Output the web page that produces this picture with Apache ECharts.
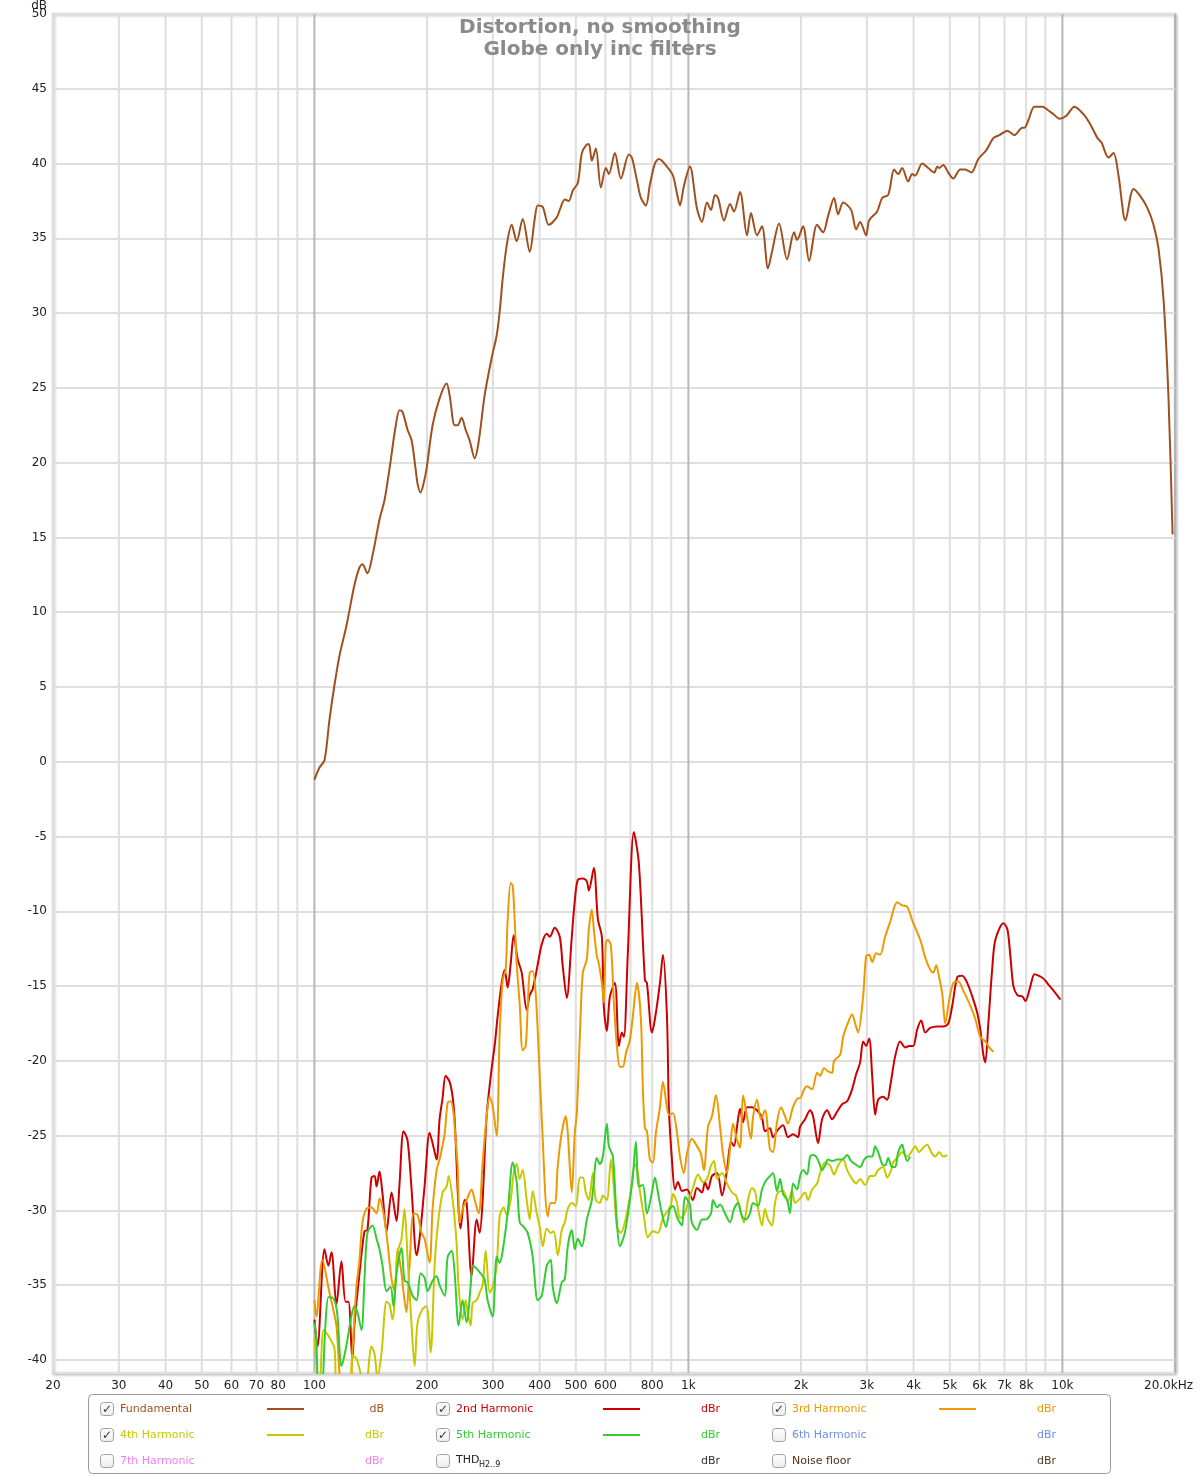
<!DOCTYPE html>
<html>
<head>
<meta charset="utf-8">
<script src="https://cdn.jsdelivr.net/npm/echarts@6/dist/echarts.min.js"></script>
<style>
html,body{margin:0;padding:0;background:#fff;}
#chart{width:1200px;height:1477px;}
</style>
</head>
<body>
<div id="chart"></div>
<script>
// ---------------- data ----------------
const titleLines = ['Distortion, no smoothing', 'Globe only inc filters'];

const fundFreq = [100,103.1,106.4,109.7,113.1,116.7,121.8,127.9,132.0,134.4,
138.6,143.0,149.3,154.0,158.8,164.8,168.9,172.0,177.4,181.9,
186.4,188.7,192.2,195.8,199.5,207.0,216.1,225.7,229.9,237.1,
241.5,247.5,253.7,260.0,268.2,274.9,285.2,297.8,307.1,312.9,
318.7,326.6,336.9,347.4,360.5,376.4,388.2,395.5,407.9,423.2,
444.6,452.9,467.1,478.7,490.7,506.1,518.8,531.7,541.7,551.8,
565.6,583.3,601.5,612.8,635.9,659.8,693.0,706.0,728.1,746.4,
769.8,789.0,813.7,834.0,876.2,909.2,931.9,949.3,972.7,1009,
1054,1087,1121,1149,1178,1200,1245,1292,1324,1374,
1434,1470,1525,1573,1632,1673,1747,1835,1916,1952,
2026,2102,2208,2291,2363,2452,2513,2592,2723,2808,
2878,2987,3043,3196,3296,3421,3549,3638,3729,3869,
3966,4040,4218,4377,4542,4627,4684,4801,4952,5107,
5332,5500,5707,5958,6260,6537,6783,7126,7441,7817,
7914,8111,8417,8843,9121,9464,9817,10250,10768,11384,
11887,12411,12721,13282,13698,14124,14747,15493,16175,16888,
17524,18073,18639,19224,19703];

const fundDb = [-1.2,-0.4,0.1,2.8,5.1,7.1,9.1,11.8,13.0,13.2,
12.6,13.8,16.2,17.5,19.6,22.4,23.5,23.4,22.2,21.5,
19.6,18.6,18.0,18.6,19.6,22.5,24.3,25.3,24.5,22.5,
22.5,23.0,22.2,21.5,20.3,21.4,24.5,27.0,28.5,30.1,
32.3,34.5,35.9,34.8,36.3,34.1,36.3,37.2,37.1,35.9,
36.4,36.9,37.6,37.5,38.2,38.7,40.7,41.2,41.3,40.2,
41.0,38.4,39.7,39.3,40.7,39.0,40.6,40.4,38.9,37.7,
37.2,38.6,40.0,40.3,39.8,39.2,38.0,37.2,38.5,39.8,
37.0,36.1,37.4,36.9,37.9,37.7,36.2,37.3,36.8,38.1,
35.2,36.7,35.2,35.8,33.0,34.1,36.0,33.6,35.4,34.9,
35.8,33.5,35.9,35.4,36.5,37.7,36.6,37.4,36.9,35.6,
36.1,35.2,36.2,36.8,37.7,37.9,39.6,39.3,39.7,38.8,
39.3,39.2,40.0,39.7,39.4,39.8,39.7,39.9,39.4,39.0,
39.6,39.6,39.4,40.3,40.9,41.7,41.9,42.2,41.9,42.4,
42.4,42.9,43.8,43.8,43.6,43.3,43.0,43.2,43.8,43.3,
42.6,41.7,41.4,40.4,40.7,39.2,36.2,38.3,37.8,37.0,
35.9,34.3,30.9,24.2,15.2];

// [frequency Hz, dBr]
const harmonic2 = [[100,-37.3],[101.9,-39.1],[106.4,-32.6],[109.0,-33.7],[111.1,-32.8],[114.5,-36.3],[118.1,-33.4],[121.1,-36.1],[123.3,-36.1],[126.3,-40.0],[127.9,-37.7],[132.0,-34.2],[136.1,-31.4],[138.6,-31.3],[142.1,-27.8],[144.8,-27.7],[146.6,-28.4],[149.3,-27.4],[152.1,-28.9],[155.9,-31.4],[160.8,-28.8],[165.8,-30.7],[168.9,-28.2],[173.1,-24.7],[177.4,-25.3],[181.9,-28.6],[187.6,-33.0],[191.0,-31.9],[197.0,-28.4],[203.2,-24.8],[207.0,-25.5],[212.2,-26.6],[216.1,-23.9],[220.1,-22.5],[224.3,-21.0],[229.9,-21.4],[234.2,-22.4],[237.1,-23.9],[246.0,-31.2],[252.1,-29.3],[255.3,-29.5],[263.2,-34.4],[271.5,-30.6],[276.6,-31.5],[281.7,-29.3],[288.7,-23.7],[297.8,-20.5],[303.3,-19.0],[309.0,-17.0],[316.7,-14.8],[322.7,-13.9],[328.6,-15.1],[334.8,-13.5],[341.1,-11.6],[349.5,-13.2],[358.3,-14.1],[369.5,-16.6],[376.4,-15.6],[383.4,-15.2],[393.1,-13.9],[405.4,-12.2],[418.0,-11.5],[425.8,-11.7],[439.1,-11.1],[452.9,-11.7],[461.4,-13.7],[472.9,-15.8],[487.7,-11.7],[496.8,-9.3],[506.1,-7.9],[522.0,-7.8],[535.0,-8.0],[541.7,-8.6],[558.6,-7.1],[572.6,-10.5],[586.9,-11.7],[594.1,-16.4],[605.2,-18.0],[616.6,-15.7],[635.9,-14.8],[651.7,-19.0],[663.9,-18.1],[672.1,-18.4],[688.7,-12.8],[714.8,-4.7],[737.1,-6.8],[765.1,-14.6],[774.6,-14.8],[798.8,-18.1],[813.7,-17.2],[839.2,-14.8],[854.8,-12.9],[876.2,-17.0],[887.1,-23.3],[903.6,-26.6],[920.5,-28.6],[937.7,-28.1],[961.1,-28.7],[990.8,-28.6],[1028,-29.3],[1054,-28.5],[1087,-28.8],[1107,-28.1],[1128,-28.6],[1156,-27.7],[1193,-27.5],[1230,-29.0],[1268,-27.3],[1300,-25.4],[1324,-25.7],[1349,-24.4],[1374,-23.2],[1400,-24.1],[1434,-23.1],[1479,-23.1],[1525,-23.3],[1573,-23.8],[1602,-24.7],[1652,-24.5],[1683,-25.1],[1736,-24.6],[1791,-24.3],[1846,-25.1],[1904,-24.9],[1964,-25.1],[1989,-24.4],[2051,-23.9],[2115,-23.3],[2154,-23.7],[2222,-25.5],[2277,-23.9],[2348,-23.3],[2422,-23.9],[2498,-23.4],[2576,-22.9],[2657,-22.7],[2740,-21.9],[2808,-20.9],[2878,-20.1],[2932,-18.7],[2987,-19.0],[3043,-18.5],[3100,-21.0],[3157,-23.6],[3216,-22.6],[3316,-22.4],[3400,-22.6],[3463,-21.7],[3571,-19.7],[3683,-18.7],[3798,-19.1],[3893,-19.0],[3990,-19.0],[4090,-17.9],[4192,-17.3],[4297,-18.1],[4431,-17.8],[4627,-17.7],[4801,-17.7],[4952,-17.5],[5076,-16.3],[5235,-14.4],[5398,-14.3],[5568,-14.8],[5742,-15.7],[5921,-16.8],[6032,-17.9],[6146,-19.6],[6221,-20.1],[6337,-17.5],[6497,-13.7],[6618,-11.9],[6952,-10.8],[7126,-11.2],[7259,-13.0],[7395,-15.0],[7579,-15.6],[7817,-15.7],[7963,-16.0],[8212,-15.0],[8417,-14.2],[8627,-14.3],[8898,-14.5],[9177,-14.9],[9464,-15.3],[9878,-15.9]];

const harmonic3 = [[100,-36.0],[101.2,-37.1],[105.0,-33.3],[109.7,-35.5],[111.8,-36.4],[114.5,-37.7],[118.8,-42],[124.1,-42],[126.3,-39.5],[129.5,-35.1],[132.0,-33.3],[134.4,-30.8],[137.7,-29.9],[142.1,-29.8],[146.6,-30.2],[149.3,-29.2],[154.0,-30.6],[156.9,-32.2],[160.8,-34.6],[163.8,-35.4],[166.9,-32.6],[170.9,-34.2],[174.1,-36.0],[176.3,-36.8],[179.6,-33.7],[184.1,-30.2],[188.7,-30.3],[193.4,-31.5],[197.0,-31.9],[203.2,-33.5],[207.0,-29.9],[212.2,-27.3],[216.1,-26.6],[222.9,-24.9],[227.1,-22.8],[231.3,-22.7],[235.6,-23.5],[237.1,-24.4],[241.5,-27.0],[244.5,-30.8],[249.0,-29.9],[255.3,-29.3],[263.2,-28.6],[268.2,-29.3],[274.9,-30.2],[281.7,-26.8],[287.0,-24.4],[294.1,-22.4],[299.6,-23.0],[307.1,-25.0],[312.9,-18.1],[318.7,-14.6],[324.6,-13.9],[328.6,-10.6],[334.8,-8.1],[339.0,-8.3],[343.2,-10.6],[347.4,-13.5],[353.9,-16.2],[360.5,-19.3],[367.2,-19.0],[371.8,-16.4],[376.4,-14.1],[383.4,-14.0],[390.6,-15.5],[397.9,-19.5],[405.4,-23.9],[420.6,-30.4],[428.4,-29.5],[439.1,-29.5],[447.4,-27.0],[458.5,-24.8],[470.0,-23.7],[475.8,-24.8],[487.7,-28.8],[496.8,-24.8],[503.0,-23.5],[512.4,-18.4],[522.0,-14.1],[535.0,-13.2],[541.7,-11.2],[551.8,-9.9],[558.6,-11.2],[569.1,-13.0],[576.1,-13.5],[586.9,-14.8],[594.1,-16.1],[601.5,-12.1],[609.0,-11.9],[620.4,-12.3],[632.0,-16.1],[643.8,-19.0],[655.7,-20.4],[668.0,-20.4],[680.4,-19.5],[697.3,-18.6],[710.4,-17.0],[728.1,-14.8],[746.4,-17.2],[755.7,-22.0],[765.1,-24.5],[774.6,-24.7],[789.0,-26.6],[803.7,-26.8],[818.7,-24.8],[839.2,-23.1],[854.8,-21.4],[876.2,-23.1],[887.1,-23.6],[909.2,-23.5],[931.9,-24.8],[949.3,-26.4],[972.7,-27.5],[990.8,-26.2],[1021,-25.2],[1054,-25.7],[1080,-26.2],[1100,-27.3],[1128,-24.4],[1156,-23.7],[1185,-22.3],[1215,-24.4],[1237,-26.2],[1268,-27.5],[1292,-25.9],[1316,-24.2],[1349,-25.3],[1374,-25.8],[1400,-22.3],[1434,-23.7],[1470,-25.2],[1488,-23.8],[1525,-22.6],[1563,-23.9],[1602,-23.3],[1652,-25.9],[1683,-26.1],[1725,-24.1],[1769,-23.1],[1812,-23.7],[1846,-24.2],[1904,-23.1],[1964,-22.5],[1989,-22.5],[2039,-21.9],[2076,-21.7],[2141,-21.9],[2208,-20.8],[2249,-21.0],[2305,-20.5],[2363,-20.7],[2422,-20.8],[2452,-20.0],[2544,-19.6],[2592,-18.4],[2657,-17.6],[2740,-16.9],[2791,-17.5],[2843,-18.1],[2932,-15.7],[2987,-13.0],[3043,-12.9],[3100,-13.4],[3176,-12.8],[3255,-12.9],[3357,-11.7],[3463,-10.7],[3616,-9.4],[3729,-9.6],[3845,-9.7],[3966,-10.6],[4090,-11.4],[4192,-12.1],[4297,-13.1],[4431,-13.9],[4514,-14.1],[4599,-13.6],[4655,-14.1],[4771,-15.5],[4861,-17.5],[4983,-15.9],[5107,-14.8],[5267,-14.7],[5432,-15.3],[5672,-16.3],[5849,-17.2],[6032,-18.4],[6221,-18.7],[6376,-19.1],[6537,-19.4]];

const harmonic4 = [[100,-38.5],[103.1,-42],[105.7,-38.0],[107.7,-38.2],[109.7,-38.5],[113.1,-39.2],[115.3,-42],[124.1,-42],[126.3,-39.7],[129.5,-39.9],[132.0,-40.6],[136.9,-42],[142.1,-39.1],[144.8,-39.6],[147.5,-41.2],[151.2,-39.5],[155.9,-36.1],[158.8,-36.3],[161.7,-37.3],[166.9,-32.8],[170.9,-31.9],[174.1,-29.9],[177.4,-33.1],[181.9,-37.7],[185.3,-40.4],[188.7,-37.5],[194.6,-36.6],[199.5,-36.4],[204.5,-39.5],[209.6,-33.7],[213.5,-31.1],[220.1,-28.8],[225.7,-28.4],[228.5,-27.7],[234.2,-29.3],[240.0,-32.2],[243.0,-35.1],[249.0,-37.3],[253.7,-36.0],[256.8,-36.8],[261.6,-37.7],[264.9,-36.2],[271.5,-36.0],[276.6,-35.5],[281.7,-35.0],[287.0,-32.7],[294.1,-35.5],[299.6,-35.1],[307.1,-33.7],[312.9,-30.4],[320.7,-29.8],[326.6,-30.3],[334.8,-29.3],[341.1,-27.5],[347.4,-26.9],[353.9,-27.9],[360.5,-27.3],[369.5,-29.3],[376.4,-30.6],[383.4,-28.7],[393.1,-30.2],[400.4,-31.1],[407.9,-32.4],[418.0,-31.2],[428.4,-31.5],[436.4,-31.4],[447.4,-33.0],[458.5,-31.3],[467.1,-30.8],[475.8,-29.9],[487.7,-29.5],[500.0,-29.7],[512.4,-27.8],[522.0,-27.8],[531.7,-28.8],[541.7,-29.3],[555.2,-27.5],[565.6,-29.3],[579.7,-29.5],[590.5,-29.0],[605.2,-29.3],[620.4,-26.6],[632.0,-28.5],[643.8,-31.1],[659.8,-31.5],[680.4,-30.5],[701.7,-28.7],[719.2,-26.9],[732.6,-27.5],[741.8,-28.7],[760.4,-30.4],[779.3,-31.8],[803.7,-31.4],[828.9,-31.5],[854.8,-30.5],[881.6,-30.0],[898.1,-29.6],[909.2,-28.9],[931.9,-29.5],[949.3,-30.5],[972.7,-30.3],[997.0,-29.5],[1028,-28.5],[1061,-27.6],[1094,-28.1],[1121,-27.9],[1149,-27.0],[1171,-26.7],[1193,-27.9],[1230,-27.5],[1268,-28.2],[1308,-28.8],[1340,-29.0],[1374,-29.9],[1408,-30.8],[1443,-29.3],[1479,-28.5],[1506,-28.7],[1534,-29.8],[1573,-31.0],[1602,-29.9],[1632,-30.6],[1673,-31.0],[1704,-29.5],[1736,-28.8],[1791,-28.7],[1846,-29.4],[1892,-28.7],[1928,-29.5],[1989,-29.2],[2051,-28.8],[2089,-29.3],[2141,-28.6],[2208,-28.2],[2249,-27.5],[2319,-26.8],[2392,-27.0],[2452,-27.6],[2513,-27.0],[2592,-26.6],[2657,-27.3],[2740,-27.9],[2808,-28.2],[2878,-27.9],[2969,-28.3],[3062,-27.7],[3138,-27.7],[3216,-27.3],[3316,-27.1],[3400,-27.8],[3485,-27.3],[3527,-26.8],[3638,-26.4],[3729,-26.1],[3845,-26.4],[3966,-26.0],[4040,-25.7],[4141,-26.1],[4244,-25.8],[4350,-25.6],[4458,-26.1],[4570,-26.4],[4684,-26.1],[4801,-26.4],[4921,-26.3]];

const harmonic5 = [[100,-37.5],[101.2,-38.6],[102.5,-42],[104.4,-42],[107.1,-37.5],[109.0,-35.8],[111.1,-35.8],[113.8,-36.2],[115.3,-37.1],[118.1,-40.4],[120.3,-39.7],[122.6,-38.6],[125.5,-37.1],[127.9,-36.4],[130.3,-36.8],[133.6,-38.0],[136.1,-34.6],[138.6,-31.5],[143.0,-31.0],[146.6,-31.9],[149.3,-32.6],[152.1,-33.7],[155.9,-35.4],[159.8,-35.1],[162.7,-36.4],[165.8,-34.2],[170.9,-32.5],[174.1,-34.7],[177.4,-34.8],[183.0,-35.7],[187.6,-36.0],[192.2,-34.2],[197.0,-34.5],[200.7,-35.4],[207.0,-34.7],[212.2,-34.4],[216.1,-35.0],[222.9,-35.7],[227.1,-33.1],[232.8,-32.7],[237.1,-34.2],[243.0,-37.7],[249.0,-36.0],[255.3,-37.5],[261.6,-35.1],[264.9,-33.7],[271.5,-33.9],[280.0,-34.3],[285.2,-34.6],[290.5,-36.0],[299.6,-37.1],[307.1,-33.1],[312.9,-33.5],[318.7,-32.7],[328.6,-30.2],[339.0,-26.8],[347.4,-28.1],[353.9,-30.8],[362.7,-31.1],[371.8,-31.5],[383.4,-33.1],[395.5,-36.0],[405.4,-35.7],[418.0,-33.7],[428.4,-33.3],[433.8,-35.1],[444.6,-36.2],[458.5,-34.8],[467.1,-34.6],[475.8,-32.4],[487.7,-31.3],[496.8,-32.6],[506.1,-31.9],[518.8,-32.4],[535.0,-30.6],[551.8,-29.3],[569.1,-26.5],[579.7,-26.9],[590.5,-26.4],[605.2,-24.2],[612.8,-25.7],[628.1,-26.4],[643.8,-30.8],[655.7,-32.4],[676.1,-31.5],[697.3,-29.3],[710.4,-27.7],[723.6,-25.4],[737.1,-28.4],[755.7,-28.3],[774.6,-30.2],[798.8,-28.8],[813.7,-27.8],[828.9,-28.8],[849.5,-30.2],[870.8,-31.1],[892.6,-29.9],[909.2,-29.7],[937.7,-30.6],[961.1,-31.0],[978.7,-29.1],[1009,-29.6],[1021,-30.8],[1054,-31.3],[1087,-30.6],[1114,-30.6],[1149,-30.2],[1163,-29.3],[1193,-29.8],[1215,-29.6],[1253,-30.2],[1292,-30.8],[1324,-29.9],[1357,-29.5],[1391,-30.4],[1425,-30.6],[1461,-30.2],[1488,-29.5],[1534,-29.7],[1573,-28.6],[1612,-28.0],[1652,-27.7],[1683,-27.5],[1725,-28.7],[1758,-27.9],[1791,-28.9],[1835,-29.3],[1869,-30.2],[1904,-28.2],[1952,-28.6],[1989,-27.7],[2026,-27.3],[2076,-27.6],[2115,-26.4],[2154,-26.3],[2195,-26.4],[2236,-26.8],[2277,-27.3],[2319,-27.0],[2363,-26.6],[2422,-26.7],[2498,-26.6],[2576,-26.6],[2657,-26.3],[2723,-26.7],[2791,-26.9],[2878,-27.1],[2950,-26.6],[3024,-26.4],[3100,-26.4],[3157,-25.7],[3216,-26.1],[3296,-26.9],[3357,-27.0],[3421,-26.5],[3505,-27.1],[3571,-27.1],[3638,-26.1],[3729,-25.6],[3775,-26.1],[3845,-26.7],[3917,-26.4]];

// axis ticks / grid
const xTickValues = [20,30,40,50,60,70,80,100,200,300,400,500,600,800,1000,2000,3000,4000,5000,6000,7000,8000,10000,20000];
const xTickLabels = ['20','30','40','50','60','70','80','100','200','300','400','500','600','800','1k','2k','3k','4k','5k','6k','7k','8k','10k','20.0kHz'];
const minorGridFreqs = [20,30,40,50,60,70,80,90,200,300,400,500,600,700,800,900,2000,3000,4000,5000,6000,7000,8000,9000];
const majorGridFreqs = [100,1000,10000];

// legend
const legendNames = ['Fundamental','2nd Harmonic','3rd Harmonic','4th Harmonic','5th Harmonic','6th Harmonic','7th Harmonic','THD','Noise floor'];
const legendUnits = ['dB','dBr','dBr','dBr','dBr','dBr','dBr','dBr','dBr'];
const legendChecked = [true,true,true,true,true,false,false,false,false];
const legendColors = ['#a0501e','#cc0000','#ee9900','#c8c800','#33cc33','#6f8fe8','#f07ef0','#222222','#4e3219'];
const legendUnitColors = ['#a0501e','#cc0000','#ee9900','#c8c800','#33cc33','#6f8fe8','#f07ef0','#333333','#5e3a1a'];

// ---------------- chart ----------------
const Y_MIN = -40.87, Y_MAX = 50;
const FONT = '"DejaVu Sans", "Liberation Sans", sans-serif';

const chart = echarts.init(document.getElementById('chart'), null, {renderer: 'canvas'});

const fundamental = fundFreq.map((f, i) => [f, fundDb[i]]);

function lineSeries(name, data, color, z) {
  return {
    name, type: 'line', data, showSymbol: false, symbol: 'none', smooth: 0.3,
    clip: true, z, lineStyle: {color, width: 2}, emphasis: {disabled: true}
  };
}

function gridSeries(freqs, color, width) {
  return {
    type: 'custom', z: 1, silent: true,
    data: freqs.map(f => [f, 0]),
    renderItem(params, api) {
      const f = api.value(0);
      const a = api.coord([f, Y_MAX]);
      const b = api.coord([f, Y_MIN]);
      return {type: 'line', shape: {x1: a[0], y1: a[1], x2: b[0], y2: b[1]},
              style: {stroke: color, lineWidth: width}};
    }
  };
}

const labelSeries = {
  type: 'custom', z: 3, silent: true,
  data: xTickValues.map(f => [f, Y_MIN]),
  renderItem(params, api) {
    const p = api.coord([api.value(0), Y_MIN]);
    const i = params.dataIndex;
    const last = i === xTickValues.length - 1;
    return {type: 'text', x: p[0] + (last ? 18 : 0), y: p[1] + 7,
      style: {text: xTickLabels[i], align: last ? 'right' : 'center', verticalAlign: 'top',
              fill: '#222', fontSize: 12, fontFamily: FONT}};
  }
};

// legend graphics
const legendGraphics = [{
  type: 'rect', shape: {x: 88.5, y: 1394.5, width: 1022, height: 79, r: 4},
  style: {fill: '#fff', stroke: '#9a9a9a', lineWidth: 1}, z: 10
}];
const colX = [100, 436, 772];
const rowY = [1409, 1435, 1461];
legendNames.forEach((name, i) => {
  const cx = colX[i % 3], cy = rowY[Math.floor(i / 3)];
  legendGraphics.push({
    type: 'rect', shape: {x: cx + 0.5, y: cy - 6.5, width: 13, height: 13, r: 3},
    style: {fill: new echarts.graphic.LinearGradient(0, 0, 0, 1, [{offset: 0, color: '#ffffff'}, {offset: 1, color: '#ececec'}]),
            stroke: '#a0a0a0', lineWidth: 1}, z: 11
  });
  if (legendChecked[i]) {
    legendGraphics.push({type: 'text', x: cx + 7, y: cy + 0.5,
      style: {text: '\u2713', align: 'center', verticalAlign: 'middle', fill: '#333', fontSize: 12, fontFamily: FONT}, z: 12});
    legendGraphics.push({type: 'line', shape: {x1: cx + 167, y1: cy, x2: cx + 204, y2: cy},
      style: {stroke: legendColors[i], lineWidth: 2}, z: 11});
  }
  if (name === 'THD') {
    legendGraphics.push({type: 'text', x: cx + 20, y: cy - 1,
      style: {text: 'THD', align: 'left', verticalAlign: 'middle', fill: legendColors[i], fontSize: 11, fontFamily: FONT}, z: 11});
    legendGraphics.push({type: 'text', x: cx + 43, y: cy + 4,
      style: {text: 'H2..9', align: 'left', verticalAlign: 'middle', fill: legendColors[i], fontSize: 8, fontFamily: FONT}, z: 11});
  } else {
    legendGraphics.push({type: 'text', x: cx + 20, y: cy,
      style: {text: name, align: 'left', verticalAlign: 'middle', fill: legendColors[i], fontSize: 11, fontFamily: FONT}, z: 11});
  }
  legendGraphics.push({type: 'text', x: cx + 284, y: cy,
    style: {text: legendUnits[i], align: 'right', verticalAlign: 'middle', fill: legendUnitColors[i], fontSize: 11, fontFamily: FONT}, z: 11});
});
legendGraphics.push({type: 'text', x: 47, y: 12,
  style: {text: 'dB', align: 'right', verticalAlign: 'bottom', fill: '#222', fontSize: 12, fontFamily: FONT}, z: 11});

chart.setOption({
  animation: false,
  backgroundColor: '#fff',
  title: {
    text: titleLines.join('\n'), left: 'center', top: 12,
    textStyle: {fontSize: 20, fontWeight: 'bold', color: '#8a8a8a', lineHeight: 22, fontFamily: FONT}
  },
  grid: {left: 53, right: 25, top: 14, bottom: 104, show: true, borderColor: '#b4b4b4', borderWidth: 2,
         backgroundColor: '#fff', shadowColor: 'rgba(0,0,0,0.25)', shadowBlur: 3, shadowOffsetX: 1, shadowOffsetY: 1},
  xAxis: {
    type: 'log', logBase: 10, min: 20, max: 20000,
    axisLine: {show: false}, axisTick: {show: false}, axisLabel: {show: false}, splitLine: {show: false}
  },
  yAxis: {
    type: 'value', min: Y_MIN, max: Y_MAX, splitNumber: 18,
    axisLine: {show: false}, axisTick: {show: false},
    axisLabel: {color: '#222', fontSize: 12, fontFamily: FONT, margin: 6,
      formatter: v => (Math.abs(v - Math.round(v / 5) * 5) < 1e-6 ? String(Math.round(v)) : '')},
    splitLine: {lineStyle: {color: '#dedede', width: 2}}
  },
  graphic: legendGraphics,
  series: [
    gridSeries(minorGridFreqs, '#dedede', 2),
    gridSeries(majorGridFreqs, '#b8b8b8', 2),
    labelSeries,
    lineSeries('Fundamental', fundamental, legendColors[0], 4),
    lineSeries('2nd Harmonic', harmonic2, legendColors[1], 5),
    lineSeries('3rd Harmonic', harmonic3, legendColors[2], 6),
    lineSeries('4th Harmonic', harmonic4, legendColors[3], 7),
    lineSeries('5th Harmonic', harmonic5, legendColors[4], 8)
  ]
});
</script>
</body>
</html>
